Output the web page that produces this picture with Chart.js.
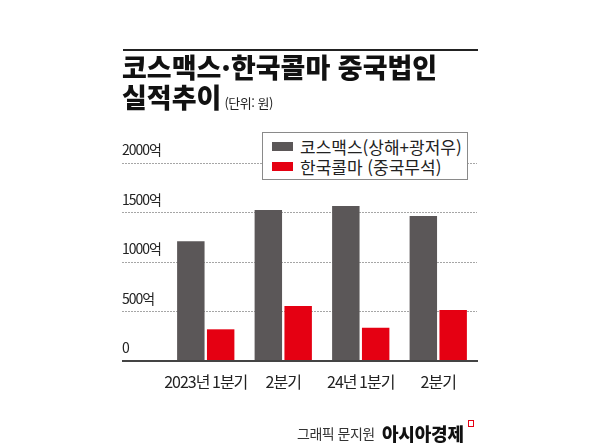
<!DOCTYPE html>
<html lang="ko">
<head>
<meta charset="utf-8">
<script src="https://cdn.jsdelivr.net/npm/chart.js@4"></script>
<style>
  html, body { margin: 0; padding: 0; background: #fff; }
  #wrap { position: relative; width: 600px; height: 448px; overflow: hidden; font-family: "Noto Sans CJK KR", "Noto Sans", sans-serif; }
  canvas { position: absolute; left: 0; top: 0; }
  #rule { position: absolute; left: 123px; top: 49px; width: 355px; height: 2px; background: #222; }
  #title { position: absolute; left: 122px; top: 52px; font-size: 27px; line-height: 30px; font-weight: 900; color: #111; white-space: nowrap; letter-spacing: 0; }
  #title small { font-size: 13px; font-weight: 400; color: #222; letter-spacing: -0.5px; margin-left: 3px; }
  #legend { position: absolute; left: 262px; top: 132px; width: 204px; height: 46px; border: 1px solid #8a8a8a; background: #fff; }
  .li { position: absolute; left: 9px; height: 20px; display: flex; align-items: center; font-size: 17px; color: #222; white-space: nowrap; }
  .sw { width: 21px; height: 9px; margin-right: 7px; }
  #credit { position: absolute; left: 297px; top: 423px; font-size: 14px; color: #333; white-space: nowrap; letter-spacing: -0.5px; }
  #brand { position: absolute; left: 382px; top: 420px; font-size: 18px; font-weight: 900; color: #111; white-space: nowrap; letter-spacing: -0.2px; }
  #mark { position: absolute; left: 468px; top: 420px; width: 4px; height: 5px; border: 1.5px solid #e50012; border-left-width: 1px; }
</style>
</head>
<body>
<div id="wrap">
  <canvas id="c" width="600" height="448"></canvas>
  <div id="rule"></div>
  <div id="title">코스맥스·한국콜마 중국법인<br>실적추이<small>(단위: 원)</small></div>
  <div id="legend"></div>
  <div id="credit">그래픽 문지원</div>
  <div id="brand">아시아경제</div>
  <div id="mark"></div>
</div>
<script>
// ---- data ----
const categories = ['2023년 1분기', '2분기', '24년 1분기', '2분기'];
const cosmaxLabel = '코스맥스(상해+광저우)';
const kolmarLabel = '한국콜마 (중국무석)';
const cosmaxValues = [1210, 1525, 1565, 1465];
const kolmarValues = [320, 555, 335, 515];
const yTickValues = [0, 500, 1000, 1500, 2000];
const yTickLabels = ['0', '500억', '1000억', '1500억', '2000억'];

const DARK = '#5b5758';
const RED = '#e50012';
const GRID = '#a6a6a6';
const BASE = '#444444';

const letterSpacingPlugin = {
  id: 'ls',
  beforeDraw(chart) { chart.ctx.letterSpacing = '-1px'; }
};

const isZero = ctx => !!ctx.tick && ctx.tick.value === 0;

const chart = new Chart(document.getElementById('c'), {
  type: 'bar',
  data: {
    labels: categories,
    datasets: [
      { label: cosmaxLabel, data: cosmaxValues, backgroundColor: DARK },
      { label: kolmarLabel, data: kolmarValues, backgroundColor: RED }
    ]
  },
  plugins: [letterSpacingPlugin],
  options: {
    responsive: false,
    animation: false,
    devicePixelRatio: 1,
    layout: { padding: { left: 122, right: 123, top: 163, bottom: 47 } },
    categoryPercentage: 0.77,
    barPercentage: 0.92,
    plugins: { legend: { display: false }, tooltip: { enabled: false }, title: { display: false } },
    scales: {
      x: {
        grid: { display: false, drawTicks: false },
        border: { display: true, color: BASE, width: 2, z: 1 },
        ticks: { color: '#222', padding: 11, font: { family: '"Noto Sans CJK KR", sans-serif', size: 16 }, maxRotation: 0, autoSkip: false },
        afterFit(s) { s.height = 40; }
      },
      y: {
        min: 0, max: 2000,
        ticks: {
          stepSize: 500,
          crossAlign: 'far',
          labelOffset: -13,
          padding: 0,
          color: '#222',
          font: { family: '"Noto Sans CJK KR", sans-serif', size: 14 },
          callback: (v) => yTickLabels[yTickValues.indexOf(v)]
        },
        afterFit(s) { s.width = 45; },
        border: { display: false, dash: (ctx) => isZero(ctx) ? [] : [2, 1] },
        grid: {
          display: true,
          drawOnChartArea: true,
          drawTicks: true,
          tickLength: 45,
          color: (ctx) => isZero(ctx) ? BASE : GRID,
          lineWidth: (ctx) => isZero(ctx) ? 2 : 1,
          tickColor: (ctx) => isZero(ctx) ? BASE : GRID,
          tickWidth: (ctx) => isZero(ctx) ? 2 : 1,
          tickBorderDash: (ctx) => isZero(ctx) ? [] : [2, 1]
        }
      }
    }
  }
});

// HTML legend built from the datasets
const legend = document.getElementById('legend');
chart.data.datasets.forEach((ds, i) => {
  const row = document.createElement('div');
  row.className = 'li';
  row.style.top = (i === 0 ? 3 : 23) + 'px';
  const sw = document.createElement('span');
  sw.className = 'sw';
  sw.style.background = ds.backgroundColor;
  const tx = document.createElement('span');
  tx.textContent = ds.label;
  row.appendChild(sw); row.appendChild(tx);
  legend.appendChild(row);
});
</script>
</body>
</html>
